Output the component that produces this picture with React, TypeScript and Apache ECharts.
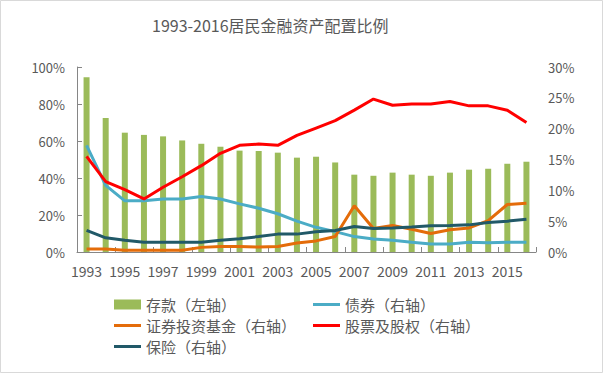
import React, { useEffect, useRef } from "react";
import * as echarts from "echarts";

const years = ["1993","1994","1995","1996","1997","1998","1999","2000","2001","2002","2003","2004","2005","2006","2007","2008","2009","2010","2011","2012","2013","2014","2015","2016"];
const deposits = [94.5, 72.5, 64.5, 63.3, 62.5, 60.3, 58.5, 56.9, 54.8, 54.6, 53.7, 51.0, 51.5, 48.4, 41.8, 41.2, 42.9, 41.8, 41.2, 42.9, 44.5, 45.0, 47.7, 48.8];
const bonds = [17.3, 10.8, 8.3, 8.3, 8.6, 8.6, 9.0, 8.6, 7.8, 7.1, 6.2, 5.0, 4.0, 3.3, 2.5, 2.1, 1.9, 1.6, 1.3, 1.3, 1.6, 1.5, 1.6, 1.6];
const funds = [0.5, 0.5, 0.3, 0.3, 0.3, 0.3, 0.75, 0.9, 0.9, 0.8, 0.9, 1.45, 1.8, 2.5, 7.5, 3.8, 4.3, 3.7, 3.0, 3.6, 3.9, 5.1, 7.7, 7.9];
const stocks = [15.5, 11.4, 10.1, 8.6, 10.5, 12.2, 14.0, 16.0, 17.3, 17.5, 17.3, 18.9, 20.1, 21.3, 23.0, 24.8, 23.8, 24.0, 24.0, 24.4, 23.7, 23.7, 23.0, 21.0];
const insurance = [3.5, 2.3, 1.9, 1.6, 1.6, 1.6, 1.6, 1.9, 2.15, 2.5, 2.9, 2.9, 3.3, 3.5, 4.15, 3.8, 3.9, 4.05, 4.25, 4.3, 4.4, 4.8, 5.0, 5.3];
const names = ["存款（左轴）", "债券（右轴）", "证券投资基金（右轴）", "股票及股权（右轴）", "保险（右轴）"];
const titleText = "1993-2016居民金融资产配置比例";

const FONT = "'Noto Sans CJK SC', 'Liberation Sans', sans-serif";
const TXT = "#595959";
const lineIcon = "path://M0,0 L27,0 L27,3 L0,3 Z";

export default function App() {
  const ref = useRef<HTMLDivElement>(null);
  useEffect(() => {
    const chart = echarts.init(ref.current!, null, { renderer: "svg" });
    const line = (name: string, data: number[], color: string) => ({
      name,
      type: "line",
      yAxisIndex: 1,
      data,
      symbol: "none",
      smooth: false,
      lineStyle: { color, width: 3 },
      itemStyle: { color },
    });
    chart.setOption({
      animation: false,
      backgroundColor: "#ffffff",
      textStyle: { fontFamily: FONT },
      title: {
        text: titleText,
        left: 147,
        top: 12,
        textStyle: { fontSize: 16, fontWeight: "normal", color: TXT, fontFamily: FONT },
      },
      graphic: [
        {
          type: "rect",
          shape: { x: 0.5, y: 0.5, width: 602, height: 372 },
          style: { fill: "none", stroke: "#d9d9d9", lineWidth: 1 },
          silent: true,
        },
      ],
      grid: { left: 77, right: 67, top: 67, bottom: 121, containLabel: false },
      legend: [
        {
          orient: "vertical",
          left: 109,
          top: 292,
          itemWidth: 27,
          itemHeight: 10,
          itemGap: 6,
          textStyle: { fontSize: 15, color: TXT, fontFamily: FONT },
          data: [
            { name: names[0], icon: "rect" },
            { name: names[2], icon: lineIcon },
            { name: names[4], icon: lineIcon },
          ],
        },
        {
          orient: "vertical",
          left: 308,
          top: 292,
          itemWidth: 27,
          itemHeight: 10,
          itemGap: 6,
          textStyle: { fontSize: 15, color: TXT, fontFamily: FONT },
          data: [
            { name: names[1], icon: lineIcon },
            { name: names[3], icon: lineIcon },
          ],
        },
      ],
      xAxis: {
        type: "category",
        data: years,
        boundaryGap: true,
        axisLine: { show: true, lineStyle: { color: "#868686", width: 1 } },
        axisTick: { show: true, inside: true, interval: 1, length: 5, lineStyle: { color: "#868686" } },
        axisLabel: { interval: 1, fontSize: 14, color: TXT, margin: 12, fontFamily: FONT },
      },
      yAxis: [
        {
          type: "value",
          min: 0,
          max: 100,
          interval: 20,
          axisLine: { show: true, lineStyle: { color: "#868686" } },
          axisTick: { show: true, inside: true, length: 5, lineStyle: { color: "#868686" } },
          splitLine: { show: false },
          axisLabel: { formatter: "{value}%", fontSize: 13, color: TXT, margin: 12, fontFamily: FONT },
        },
        {
          type: "value",
          min: 0,
          max: 30,
          interval: 5,
          position: "right",
          axisLine: { show: false },
          axisTick: { show: false },
          splitLine: { show: false },
          axisLabel: { formatter: "{value}%", fontSize: 13, color: TXT, margin: 12, fontFamily: FONT },
        },
      ],
      series: [
        {
          name: names[0],
          type: "bar",
          yAxisIndex: 0,
          data: deposits,
          barWidth: 6,
          itemStyle: { color: "#9BBB59" },
        },
        line(names[1], bonds, "#4BACC6"),
        line(names[2], funds, "#E46C0A"),
        line(names[4], insurance, "#215968"),
        line(names[3], stocks, "#FF0000"),
      ],
    });
    return () => chart.dispose();
  }, []);
  return (
    <div
      ref={ref}
      style={{ position: "fixed", left: 0, top: 0, width: 603, height: 373 }}
    />
  );
}
